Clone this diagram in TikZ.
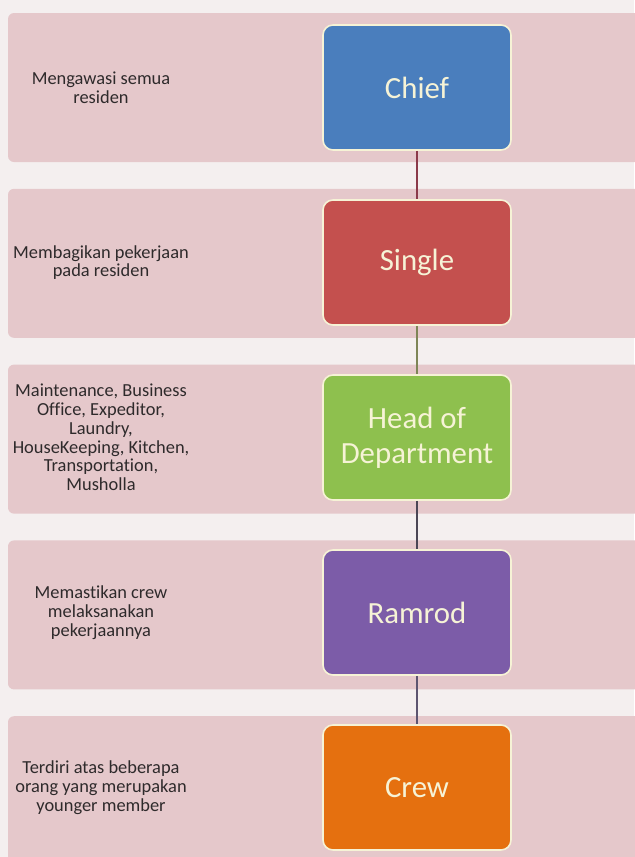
\documentclass[tikz,border=0pt]{standalone}
\usepackage{fontspec}
\setmainfont{Carlito}[Ligatures=NoCommon]
\usetikzlibrary{positioning}

\definecolor{bandpink}{HTML}{E5C8CB}
\definecolor{gappink}{HTML}{F4EFEF}
\definecolor{chiefblue}{HTML}{4A7EBD}
\definecolor{singlered}{HTML}{C4504E}
\definecolor{headgreen}{HTML}{8EC04E}
\definecolor{ramrodpurple}{HTML}{7C5CA8}
\definecolor{creworange}{HTML}{E5700F}
\definecolor{boxtext}{HTML}{F6F3D6}
\definecolor{notegray}{HTML}{2E2A2B}
\definecolor{lnkred}{HTML}{8B3A4A}
\definecolor{lnkolive}{HTML}{7E8557}
\definecolor{lnkgray}{HTML}{4B4655}
\definecolor{lnkpurple}{HTML}{5D5570}

\begin{document}
\begin{tikzpicture}[x=0.5pt, y=-0.5pt, node distance=24.2pt,
    band/.style={fill=bandpink, rounded corners=3pt, inner sep=0pt,
                 minimum width=320pt, minimum height=74.5pt},
    box/.style={draw=boxtext, line width=0.8pt, rounded corners=5pt,
                minimum width=94pt, minimum height=62.5pt, inner sep=0pt,
                align=center, text=boxtext,
                font=\fontsize{15.4}{17.5}\selectfont},
    note/.style={align=center, text=notegray,
                 font=\fontsize{9.2}{9.4}\selectfont},
    link/.style={line width=1pt}]
  \useasboundingbox[fill=gappink] (0,0) rectangle (634,857);

  % background bands
  \node[band] (b1) at (328,87.5) {};
  \node[band] (b2) [below=13pt of b1] {};
  \node[band] (b3) [below=13pt of b2] {};
  \node[band] (b4) [below=13pt of b3] {};
  \node[band] (b5) [below=13pt of b4] {};

  % hierarchy
  \node[box, fill=chiefblue]    (chief)  at (417,87.5)     {Chief};
  \node[box, fill=singlered]    (single) [below=of chief]  {Single};
  \node[box, fill=headgreen]    (head)   [below=of single] {Head of\\Department};
  \node[box, fill=ramrodpurple] (ramrod) [below=of head]   {Ramrod};
  \node[box, fill=creworange]   (crew)   [below=of ramrod] {Crew};
  \draw[link, lnkred]    (chief)  -- (single);
  \draw[link, lnkolive]  (single) -- (head);
  \draw[link, lnkgray]   (head)   -- (ramrod);
  \draw[link, lnkpurple] (ramrod) -- (crew);

  % descriptions
  \coordinate (tx) at (101,0);
  \node[note] (d1) at (chief -| tx)  {Mengawasi semua\\residen};
  \node[note] (d2) at (single -| tx) {Membagikan pekerjaan\\pada residen};
  \node[note] (d3) at (head -| tx)   {Maintenance, Business\\Office, Expeditor,\\Laundry,\\HouseKeeping, Kitchen,\\Transportation,\\Musholla};
  \node[note] (d4) at (ramrod -| tx) {Memastikan crew\\melaksanakan\\pekerjaannya};
  \node[note] (d5) at (crew -| tx)   {Terdiri atas beberapa\\orang yang merupakan\\younger member};
\end{tikzpicture}
\end{document}
